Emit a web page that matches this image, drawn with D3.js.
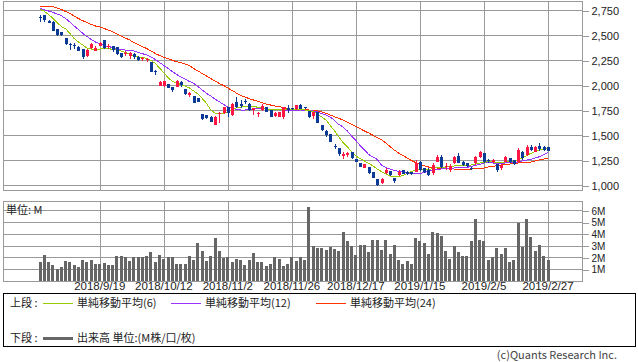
<!DOCTYPE html>
<html><head><meta charset="utf-8">
<script src="https://cdn.jsdelivr.net/npm/d3@7"></script>
<style>
html,body{margin:0;padding:0;background:#fff;}
svg{display:block;font-family:"Noto Sans CJK JP","Noto Sans",sans-serif;}
</style></head><body>
<svg id="c" width="638" height="362"></svg>
<script>
// ---------- data ----------
const tickLabels = ["2018/9/19","2018/10/12","2018/11/2","2018/11/26","2018/12/17","2019/1/15","2019/2/5","2019/2/27"];
const tickIndex = [14,29,44,59,74,89,104,119];
const priceTicks = [1000,1250,1500,1750,2000,2250,2500,2750];
const volTicks = [1,2,3,4,5,6];

const open = [2683,2700,2643,2633,2557,2527,2467,2410,2400,2383,2357,2290,2367,2343,2393,2450,2383,2387,2383,2317,
2310,2290,2307,2283,2263,2250,2233,2143,1993,1990,2010,1983,1983,2030,1957,1900,1890,1867,1707,1700,
1683,1600,1707,1717,1783,1700,1830,1810,1843,1810,1750,1710,1750,1777,1750,1690,1683,1677,1767,1767,
1760,1805,1780,1743,1690,1733,1600,1540,1507,1393,1373,1290,1300,1327,1257,1223,1173,1183,1127,1057,
1017,1117,1140,1073,1100,1147,1133,1130,1133,1233,1170,1150,1120,1233,1283,1183,1150,1217,1290,1233,
1217,1170,1217,1277,1317,1250,1235,1210,1167,1233,1267,1250,1233,1333,1300,1383,1333,1390,1383,1377];
const high = [2703,2700,2650,2640,2557,2530,2470,2423,2423,2390,2360,2357,2417,2390,2430,2450,2410,2393,2385,2320,
2340,2330,2317,2290,2283,2267,2235,2150,2040,2045,2012,1985,2050,2040,1960,1933,1893,1870,1710,1705,
1688,1690,1733,1780,1785,1820,1877,1850,1857,1817,1770,1733,1810,1780,1752,1733,1735,1780,1800,1775,
1805,1810,1783,1745,1735,1735,1605,1550,1510,1410,1375,1327,1327,1330,1260,1225,1210,1185,1130,1060,
1067,1170,1145,1075,1150,1150,1137,1135,1250,1240,1175,1170,1217,1300,1300,1220,1210,1290,1317,1240,
1220,1180,1290,1343,1320,1257,1257,1215,1210,1293,1270,1255,1367,1340,1400,1400,1390,1417,1387,1380];
const low = [2630,2633,2617,2540,2490,2490,2405,2350,2357,2340,2257,2283,2357,2343,2390,2360,2357,2330,2305,2270,
2290,2260,2263,2243,2243,2233,2130,2100,1990,1985,1970,1933,1980,1983,1905,1877,1820,1828,1650,1660,
1630,1597,1623,1710,1680,1695,1770,1767,1810,1743,1700,1683,1743,1728,1680,1677,1680,1660,1717,1755,
1755,1760,1760,1670,1657,1620,1545,1483,1430,1357,1290,1260,1283,1260,1228,1180,1167,1113,1070,995,
1007,1110,1090,1017,1090,1110,1103,1105,1130,1145,1125,1090,1100,1230,1170,1150,1130,1210,1220,1195,
1185,1150,1200,1270,1225,1217,1217,1133,1150,1230,1217,1205,1230,1250,1295,1340,1330,1343,1345,1340];
const close = [2673,2650,2623,2543,2503,2497,2407,2400,2390,2343,2277,2350,2410,2373,2423,2367,2390,2350,2310,2277,
2323,2317,2277,2250,2273,2260,2133,2127,2033,2040,1973,1950,2037,1997,1910,1920,1823,1833,1657,1667,
1633,1683,1720,1777,1723,1812,1780,1793,1830,1750,1767,1723,1790,1733,1683,1717,1733,1777,1750,1765,
1800,1763,1770,1677,1733,1623,1550,1500,1433,1377,1307,1307,1317,1267,1233,1183,1207,1117,1073,1000,
1057,1150,1100,1040,1127,1113,1107,1110,1217,1150,1130,1100,1200,1283,1177,1195,1190,1277,1223,1200,
1190,1160,1283,1333,1233,1240,1250,1150,1200,1283,1233,1210,1350,1267,1383,1350,1377,1363,1350,1343];

const ma6 = [2757,2737,2705,2667,2625,2585,2563,2515,2465,2430,2400,2370,2360,2357,2360,2365,2365,2355,2350,2340,
2325,2310,2290,2280,2273,2267,2245,2217,2170,2123,2075,2035,2020,2005,1990,1970,1940,1910,1865,1817,
1750,1720,1710,1715,1730,1750,1770,1780,1787,1790,1785,1778,1770,1763,1757,1753,1750,1753,1755,1757,
1755,1753,1750,1745,1735,1710,1680,1650,1595,1540,1480,1425,1380,1335,1290,1265,1240,1217,1190,1160,
1133,1110,1090,1080,1085,1095,1115,1135,1150,1157,1155,1150,1165,1177,1180,1180,1183,1190,1195,1200,
1200,1200,1210,1220,1227,1233,1230,1225,1225,1230,1235,1240,1250,1270,1295,1317,1335,1350,1360,1367];
const ma12 = [2767,2753,2740,2727,2710,2693,2665,2630,2590,2555,2517,2485,2455,2430,2410,2395,2385,2375,2365,2355,
2350,2345,2340,2327,2313,2300,2280,2255,2225,2195,2165,2135,2105,2080,2060,2035,2017,1985,1950,1917,
1890,1860,1833,1805,1782,1767,1757,1750,1750,1755,1760,1765,1765,1760,1757,1755,1753,1750,1750,1750,
1750,1750,1747,1743,1740,1730,1715,1700,1680,1645,1605,1580,1540,1490,1445,1395,1350,1305,1280,1255,
1200,1175,1160,1145,1137,1130,1125,1115,1110,1115,1125,1135,1147,1157,1160,1163,1167,1170,1173,1175,
1177,1185,1195,1207,1220,1222,1220,1217,1218,1220,1222,1223,1230,1240,1250,1257,1270,1283,1303,1323];
const ma24 = [2790,2790,2790,2785,2770,2755,2735,2715,2690,2665,2643,2625,2605,2590,2580,2565,2550,2533,2510,2490,
2470,2450,2425,2405,2383,2365,2340,2315,2295,2277,2262,2247,2233,2222,2210,2195,2165,2140,2115,2090,
2065,2040,2015,1995,1970,1945,1920,1897,1880,1863,1850,1837,1823,1810,1800,1790,1783,1775,1765,1757,
1755,1753,1752,1750,1750,1740,1730,1717,1700,1683,1667,1650,1630,1607,1585,1563,1540,1520,1497,1475,
1453,1420,1385,1350,1320,1295,1270,1245,1225,1207,1193,1180,1175,1170,1167,1165,1163,1160,1160,1160,
1160,1160,1163,1165,1170,1180,1187,1193,1200,1205,1210,1215,1220,1223,1227,1230,1240,1250,1260,1270];

const volume = [1.62,2.2,1.62,1.34,1.0,1.2,1.68,1.62,1.34,1.2,1.77,1.62,1.77,1.48,1.48,1.57,1.4,1.4,2.1,2.1,
2.0,1.68,2.0,2.0,2.05,2.1,2.43,1.62,2.2,1.85,2.0,2.0,1.43,1.48,1.48,2.1,1.77,3.2,2.54,1.68,
2.1,3.68,2.54,1.95,2.05,1.62,1.85,1.77,1.34,1.77,2.4,1.62,1.62,1.28,1.48,2.0,1.9,1.28,1.48,2.0,
1.68,2.0,1.75,6.3,3.0,2.82,2.82,2.62,2.85,2.68,2.54,4.13,3.39,2.97,2.2,3.05,3.05,2.43,3.48,3.48,
2.62,3.48,2.28,3.05,1.77,1.48,1.68,1.48,3.62,3.39,3.2,2.28,4.13,4.05,3.82,2.54,1.85,2.97,2.43,2.1,
2.1,3.39,5.27,3.48,3.39,1.77,2.05,2.82,2.33,2.82,1.62,1.77,4.9,2.9,5.27,3.73,2.54,3.05,2.1,1.77];

const legendItems = [
  {label:"単純移動平均(6)", color:"#99cc00"},
  {label:"単純移動平均(12)", color:"#9933ff"},
  {label:"単純移動平均(24)", color:"#ff3300"}
];

// ---------- layout ----------
const svg = d3.select("#c");
const L = 3, R = 582;
const T1 = 1, B1 = 190, T2 = 201, B2 = 281;
const UP = "#ff1744", DOWN = "#0a3a96", GRID = "#999999", TXT = "#222";

const x = d3.scaleLinear().domain([0, 119]).range([40, 548]);
const y = d3.scaleLinear().domain([950, 2840]).range([B1, T1]);
const yv = d3.scaleLinear().domain([0, 6.8]).range([B2, T2]);
const snap = v => Math.round(v) + 0.5;

// ---------- grids ----------
function panel(top, bottom, yscale, ticks) {
  const g = svg.append("g").attr("shape-rendering", "crispEdges");
  g.selectAll(".h").data(ticks).join("line")
    .attr("x1", L).attr("x2", R)
    .attr("y1", d => snap(yscale(d))).attr("y2", d => snap(yscale(d)))
    .attr("stroke", GRID);
  g.selectAll(".v").data(tickIndex).join("line")
    .attr("x1", d => snap(x(d))).attr("x2", d => snap(x(d)))
    .attr("y1", top).attr("y2", bottom)
    .attr("stroke", GRID);
  g.append("rect").attr("x", L + 0.5).attr("y", top + 0.5)
    .attr("width", R - L).attr("height", bottom - top)
    .attr("fill", "none").attr("stroke", GRID);
}
panel(T1, B1, y, priceTicks);
panel(T2, B2, yv, volTicks);

// ---------- axes ----------
function rightAxis(scale, ticks, fmt, size) {
  const g = svg.append("g").attr("transform", `translate(${R + 0.5},0.5)`)
    .call(d3.axisRight(scale).tickValues(ticks).tickSize(6).tickPadding(3).tickFormat(fmt));
  g.select(".domain").remove();
  g.selectAll("line").attr("stroke", GRID).attr("shape-rendering", "crispEdges");
  g.selectAll("text").attr("font-size", size).attr("fill", TXT)
    .attr("font-family", '"Liberation Sans","Noto Sans",sans-serif');
}
rightAxis(y, priceTicks, d3.format(","), 11);
rightAxis(yv, volTicks, d => d + "M", 10);

svg.append("g").selectAll("text").data(tickIndex).join("text")
  .attr("x", d => x(d)).attr("y", 290)
  .attr("text-anchor", "middle").attr("font-size", 11.5).attr("fill", TXT)
  .attr("font-family", '"Liberation Sans","Noto Sans",sans-serif')
  .text((d, i) => tickLabels[i]);

svg.append("text").attr("x", 6).attr("y", 214).attr("font-size", 11).attr("fill", TXT).text("単位: M");

// ---------- volume ----------
svg.append("g").attr("shape-rendering", "crispEdges").selectAll("rect").data(volume).join("rect")
  .attr("x", (d, i) => Math.round(x(i) - 1.5)).attr("width", 3)
  .attr("y", d => yv(d)).attr("height", d => yv(0) - yv(d))
  .attr("fill", "#666666");

// ---------- moving averages ----------
const line = d3.line().x((d, i) => x(i)).y(d => y(d));
[ma24, ma12, ma6].forEach((arr, k) => {
  svg.append("path").attr("d", line(arr)).attr("fill", "none")
    .attr("stroke", legendItems[2 - k].color).attr("stroke-width", 1)
    .attr("shape-rendering", "crispEdges");
});

// ---------- candles ----------
const cg = svg.append("g").attr("shape-rendering", "crispEdges");
open.forEach((o, i) => {
  const c = close[i];
  const col = c >= o ? UP : DOWN;
  const cx = Math.round(x(i));
  cg.append("line").attr("x1", cx + 0.5).attr("x2", cx + 0.5)
    .attr("y1", y(high[i])).attr("y2", y(low[i])).attr("stroke", col);
  const top = y(Math.max(o, c)), bot = y(Math.min(o, c));
  cg.append("rect").attr("x", cx - 1).attr("width", 3)
    .attr("y", top).attr("height", Math.max(1, bot - top)).attr("fill", col);
});

// ---------- legend ----------
const lg = svg.append("g").attr("font-size", 11).attr("fill", TXT);
lg.append("rect").attr("x", 3.5).attr("y", 293.5).attr("width", 632).attr("height", 53)
  .attr("fill", "none").attr("stroke", "#000").attr("shape-rendering", "crispEdges");
lg.append("text").attr("x", 10).attr("y", 307).text("上段 :");
const lx = [43, 171, 316];
legendItems.forEach((d, i) => {
  lg.append("line").attr("x1", lx[i]).attr("x2", lx[i] + 30).attr("y1", 303.5).attr("y2", 303.5)
    .attr("stroke", d.color).attr("shape-rendering", "crispEdges");
  lg.append("text").attr("x", lx[i] + 34).attr("y", 307).text(d.label);
});
lg.append("text").attr("x", 10).attr("y", 342).text("下段 :");
lg.append("rect").attr("x", 43).attr("y", 337).attr("width", 30).attr("height", 3).attr("fill", "#666666");
lg.append("text").attr("x", 77).attr("y", 342).text("出来高 単位:(M株/口/枚)");

svg.append("text").attr("x", 617).attr("y", 359).attr("text-anchor", "end")
  .attr("font-size", 11).attr("fill", "#444").text("(c)Quants Research Inc.");
</script>
</body></html>
